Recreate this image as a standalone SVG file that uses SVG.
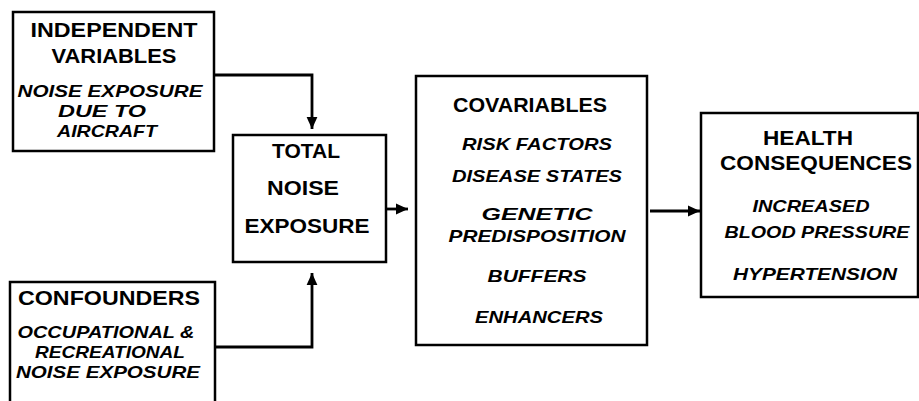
<svg xmlns="http://www.w3.org/2000/svg" width="919" height="401" viewBox="0 0 919 401">
<style>
.box{fill:#fff;stroke:#000;stroke-width:2.5}
.h{font-family:"Liberation Sans",Arial,sans-serif;font-weight:bold;font-size:20px;fill:#000;text-anchor:middle}
.i{font-family:"Liberation Sans",Arial,sans-serif;font-weight:bold;font-style:italic;font-size:17px;fill:#000;text-anchor:middle}
.c{fill:none;stroke:#000;stroke-width:2.8}
</style>
<defs>
<marker id="ah" markerUnits="userSpaceOnUse" markerWidth="12" markerHeight="12" refX="10" refY="5" orient="auto" viewBox="0 0 10 10">
<path d="M0,0.5 L10,5 L0,9.5 Z" fill="#000"/>
</marker>
</defs>
<rect width="919" height="401" fill="#fff"/>
<g id="connectors">
<path class="c" d="M214,75 H312 V129" marker-end="url(#ah)"/>
<path class="c" d="M215,347 H312 V273" marker-end="url(#ah)"/>
<path class="c" d="M386,209 H408" marker-end="url(#ah)"/>
<path class="c" d="M650,211 H700" marker-end="url(#ah)"/>
</g>
<g id="independent">
<rect class="box" x="13" y="12" width="201" height="139"/>
<text class="h" x="114" y="37" textLength="167" lengthAdjust="spacingAndGlyphs">INDEPENDENT</text>
<text class="h" x="114" y="63" textLength="125" lengthAdjust="spacingAndGlyphs">VARIABLES</text>
<text class="i" x="110" y="97" textLength="185" lengthAdjust="spacingAndGlyphs">NOISE EXPOSURE</text>
<text class="i" x="102" y="117" textLength="88" lengthAdjust="spacingAndGlyphs">DUE TO</text>
<text class="i" x="107" y="137" textLength="100" lengthAdjust="spacingAndGlyphs">AIRCRAFT</text>
</g>
<g id="confounders">
<rect class="box" x="10" y="282" width="205" height="130"/>
<text class="h" x="109" y="305" textLength="182" lengthAdjust="spacingAndGlyphs">CONFOUNDERS</text>
<text class="i" x="106" y="338" textLength="177" lengthAdjust="spacingAndGlyphs">OCCUPATIONAL &amp;</text>
<text class="i" x="110" y="358" textLength="150" lengthAdjust="spacingAndGlyphs">RECREATIONAL</text>
<text class="i" x="108" y="378" textLength="184" lengthAdjust="spacingAndGlyphs">NOISE EXPOSURE</text>
</g>
<g id="total">
<rect class="box" x="233" y="135" width="153" height="127"/>
<text class="h" x="306" y="158" textLength="68" lengthAdjust="spacingAndGlyphs">TOTAL</text>
<text class="h" x="303" y="195" textLength="72" lengthAdjust="spacingAndGlyphs">NOISE</text>
<text class="h" x="307" y="233" textLength="125" lengthAdjust="spacingAndGlyphs">EXPOSURE</text>
</g>
<g id="covariables">
<rect class="box" x="416" y="76" width="231" height="269"/>
<text class="h" x="530" y="112" textLength="154" lengthAdjust="spacingAndGlyphs">COVARIABLES</text>
<text class="i" x="537" y="150" textLength="150" lengthAdjust="spacingAndGlyphs">RISK FACTORS</text>
<text class="i" x="537" y="182" textLength="170" lengthAdjust="spacingAndGlyphs">DISEASE STATES</text>
<text class="i" x="537" y="220" textLength="111" lengthAdjust="spacingAndGlyphs">GENETIC</text>
<text class="i" x="537" y="242" textLength="177" lengthAdjust="spacingAndGlyphs">PREDISPOSITION</text>
<text class="i" x="537" y="282" textLength="99" lengthAdjust="spacingAndGlyphs">BUFFERS</text>
<text class="i" x="539" y="323" textLength="128" lengthAdjust="spacingAndGlyphs">ENHANCERS</text>
</g>
<g id="health">
<rect class="box" x="701" y="113" width="217" height="184"/>
<text class="h" x="808" y="145" textLength="90" lengthAdjust="spacingAndGlyphs">HEALTH</text>
<text class="h" x="816" y="170" textLength="192" lengthAdjust="spacingAndGlyphs">CONSEQUENCES</text>
<text class="i" x="811" y="212" textLength="117" lengthAdjust="spacingAndGlyphs">INCREASED</text>
<text class="i" x="817" y="238" textLength="185" lengthAdjust="spacingAndGlyphs">BLOOD PRESSURE</text>
<text class="i" x="815" y="280" textLength="164" lengthAdjust="spacingAndGlyphs">HYPERTENSION</text>
</g>
</svg>
